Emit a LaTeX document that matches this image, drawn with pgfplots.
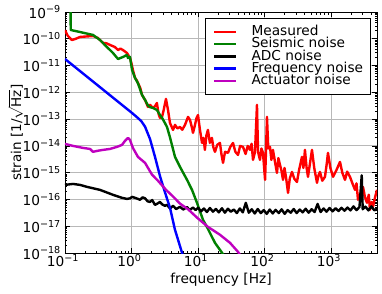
\documentclass[border=0pt]{standalone}
\usepackage{fontspec}
\setmainfont{DejaVu Sans}
\usepackage{pgfplots}
\pgfplotsset{compat=1.18}
\usetikzlibrary{calc}
\definecolor{mred}{rgb}{1,0,0}
\definecolor{mgreen}{rgb}{0,0.5,0}
\definecolor{mblue}{rgb}{0,0,1}
\definecolor{mmag}{rgb}{0.75,0,0.75}
\newcommand\mytick{10\textsuperscript{\pgfmathparse{int(round(\tick))}\ifnum\pgfmathresult<0 −\pgfmathparse{int(-\pgfmathresult)}\fi\pgfmathresult}}
\begin{document}
\begin{tikzpicture}
\begin{axis}[
 name=ax,
 xmode=log, ymode=log, log basis x=10, log basis y=10,
 scale only axis, width=312pt, height=241pt,
 xmin=0.1, xmax=4920, ymin=1e-18, ymax=1e-9,
 grid=major, major grid style={color=black!28, line width=0.9pt},
 axis line style={line width=0.9pt},
 major tick length=5pt, minor tick length=2.5pt,
 every tick/.style={black, line width=0.7pt},
 tick label style={font=\fontsize{13.7}{16}\selectfont},
 xticklabel={\mytick}, yticklabel={\mytick},
 xticklabel style={inner sep=1pt, xshift=-2pt},
 yticklabel style={inner sep=0pt, xshift=-4pt},
 xlabel={frequency [Hz]},
 ylabel={strain [1/$\sqrt{\mbox{Hz}}$]},
 every axis x label/.style={at={(axis description cs:0.5,0)}, yshift=-27pt, anchor=center, font=\fontsize{13.7}{16}\selectfont},
 every axis y label/.style={at={(axis description cs:0,0.5)}, xshift=-47.5pt, rotate=90, anchor=center, inner sep=0pt, text height=11pt, text depth=3.5pt, font=\fontsize{13.5}{16}\selectfont},
 legend style={at={(1,1)}, anchor=north east, xshift=-6pt, yshift=-6pt, draw=black, line width=0.8pt, fill=white,
   font=\fontsize{13.7}{13.7}\selectfont, inner xsep=7.5pt, inner ysep=7.5pt, row sep=0pt, column sep=14pt,
   nodes={inner sep=0pt, text height=9.8pt, text depth=2.4pt}},
 legend cell align=left,
 legend image code/.code={\draw[#1] (0pt,0pt) -- (22pt,0pt);},
 every axis plot/.append style={line width=2.4pt, line join=round},
]
\addplot[mred] table {
0.100 2.1e-10
0.110 1.3e-10
0.127 9.0e-11
0.145 1.0e-10
0.168 1.17e-10
0.21 1.22e-10
0.264 1.27e-10
0.313 1.07e-10
0.373 7.0e-11
0.42 6.8e-11
0.475 5.9e-11
0.565 4.9e-11
0.627 3.8e-11
0.68 4.3e-11
0.745 3.8e-11
0.855 2.95e-11
0.949 1.92e-11
1.00 1.2e-11
1.05 6.85e-12
1.13 3.45e-12
1.20 2.8e-12
1.25 2.24e-12
1.35 1.5e-12
1.44 8.0e-13
1.60 5.2e-13
1.77 2.85e-13
1.90 3.39e-13
2.10 2.62e-13
2.25 3.0e-13
2.41 4.0e-13
2.55 1.6e-13
2.68 1.11e-13
2.88 1.21e-13
3.05 2.2e-13
3.30 5.7e-13
3.54 2.2e-13
3.79 7.2e-14
4.21 3.95e-14
4.51 6.1e-14
4.9 4.5e-14
5.36 5.1e-14
5.8 4.0e-14
6.38 6.1e-14
7.08 1.21e-13
7.59 9.3e-14
8.13 4.7e-14
8.41 3.06e-14
9.0 6.0e-14
9.5 1.1e-13
10.0 1.43e-13
10.7 4.0e-14
11.5 1.29e-14
12.1 2.0e-14
12.7 7.1e-15
13.4 2.5e-14
14.1 3.95e-14
15.1 1.3e-14
16.2 1.99e-14
17.0 9e-15
18.0 6.0e-15
19.5 1.1e-14
21.4 1.29e-14
22.5 5e-15
23.8 2.32e-15
25.5 6e-15
28.3 5.5e-15
30.5 9e-15
33.6 1.29e-14
36.5 6e-15
40.0 4.6e-15
43 1.0e-14
47.5 9.2e-15
52 5e-15
56 1.0e-14
60.6 7.1e-15
64 1.2e-14
67.2 3.0e-15
72 6e-15
77.1 3.39e-13
80 6e-15
85.5 3.0e-15
90 8e-15
94.9 5.5e-15
102 5.4e-16
105 5e-15
109 1.21e-13
114 8e-15
121 9.2e-15
127 3e-15
134 7.1e-15
144 2.5e-15
154 9.8e-16
162 3.5e-15
171 1.96e-15
180 1.2e-15
190 5.4e-16
200 1.5e-15
212 6e-16
226 1.76e-16
240 6e-16
259 1.07e-15
280 6e-16
308 4.5e-16
330 1.2e-15
366 3.89e-15
385 1.5e-15
406 7.1e-15
430 1.5e-15
451 7.0e-16
480 2e-15
518 7.1e-15
560 1.5e-15
616 4.2e-16
650 8e-16
683 1.07e-15
740 5e-16
812 7.0e-16
860 2e-15
901 5.5e-15
980 1.5e-15
1072 7.0e-16
1200 1.2e-15
1366 2.53e-15
1480 1.0e-15
1624 5.4e-16
1750 1.1e-15
1931 7.0e-16
2100 4e-16
2296 2.28e-16
2420 4e-16
2547 9.7e-17
2800 1.8e-16
3027 2.95e-16
3250 1.2e-16
3478 7.5e-17
3700 1.5e-16
3855 4.1e-17
4100 8e-17
4281 5.3e-17
4600 1.2e-16
4920 2.28e-16
};
\addlegendentry{Measured}
\addplot[mgreen] table {
0.120 2e-8
0.122 2.13e-10
0.168 1.79e-10
0.264 1.39e-10
0.336 9.0e-11
0.428 4.9e-11
0.527 2.95e-11
0.627 1.76e-11
0.745 2.09e-11
0.855 2.49e-11
0.885 1.92e-11
0.949 2.09e-11
1.02 6.85e-12
1.13 3.45e-12
1.25 2.2e-12
1.44 8.0e-13
1.60 5.2e-13
1.77 3.2e-13
1.90 2.8e-13
2.10 2.62e-13
2.41 2.2e-13
2.65 1.5e-13
2.88 1.11e-13
3.15 7.5e-14
3.42 5.1e-14
3.79 2.1e-14
4.51 3.89e-15
5.36 1.65e-15
6.84 5.4e-16
8.13 2.28e-16
9.66 7.5e-17
11.9 1.73e-17
13.6 9.5e-18
15.1 5.7e-18
18.0 2.4e-18
23.0 1.02e-18
25.7 6.5e-19
};
\addlegendentry{Seismic noise}
\addplot[black] table {
0.100 3.5e-16
0.132 3.8e-16
0.168 3.5e-16
0.214 2.95e-16
0.336 2.28e-16
0.527 1.49e-16
0.719 1.15e-16
0.855 1.05e-16
0.95 1.1e-16
1.02 1.25e-16
1.13 1.15e-16
1.25 1.05e-16
1.34 9.7e-17
1.47 1.2e-16
1.60 1.1e-16
1.75 8.5e-17
1.90 8.1e-17
2.05 9.5e-17
2.25 6.3e-17
2.45 7e-17
2.68 8.1e-17
2.9 6.5e-17
3.19 5.8e-17
3.42 6.3e-17
3.8 4.6e-17
4.21 5.8e-17
4.7 4.4e-17
5.36 5.3e-17
6.0 4.2e-17
6.84 5.2e-17
7.5 4.0e-17
8.41 5.0e-17
9.2 4.0e-17
10 4.9e-17
11.1 3.6e-17
12.3 4.6e-17
13.6 3.4e-17
15.1 4.8e-17
16.8 3.5e-17
18.6 4.4e-17
20.6 3.3e-17
22.9 4.7e-17
25.4 3.2e-17
28.1 4.5e-17
31.2 3.5e-17
34.6 4.2e-17
38.4 3.1e-17
42.6 4.6e-17
47.2 3.3e-17
52.4 7.5e-17
58.1 3.2e-17
64.4 4.3e-17
71.4 3.0e-17
79.2 4.4e-17
87.9 3.1e-17
97.5 4.0e-17
108 2.9e-17
120 4.2e-17
133 3.0e-17
147 4.1e-17
164 3.1e-17
181 4.3e-17
201 2.9e-17
223 4.0e-17
248 3.2e-17
275 4.4e-17
305 3.1e-17
338 4.2e-17
375 3.3e-17
416 4.5e-17
461 3.2e-17
511 4.3e-17
567 3.4e-17
629 6.8e-17
698 3.4e-17
774 4.6e-17
858 3.5e-17
952 4.8e-17
1056 3.6e-17
1171 4.7e-17
1299 3.7e-17
1440 4.9e-17
1597 3.8e-17
1772 5.0e-17
1965 3.9e-17
2180 5.5e-17
2418 4.0e-17
2681 5.2e-17
2900 8.0e-16
3000 4.3e-17
3298 5.4e-17
3658 3.9e-17
4057 5.5e-17
4500 3.9e-17
4920 4.6e-17
};
\addlegendentry{ADC noise}
\addplot[mblue] table {
0.1 1.76e-11
1.0 1.76e-13
1.2 1.2e-13
1.4 8.5e-14
1.6 5.2e-14
1.9 1.8e-14
2.25 4.0e-15
2.7 7e-16
3.2 1.8e-16
3.8 4.8e-17
4.5 7.5e-18
5.7 1.1e-18
6.3 5e-19
};
\addlegendentry{Frequency noise}
\addplot[mmag] table {
0.100 1.19e-14
0.132 1.0e-14
0.187 8.4e-15
0.238 7.7e-15
0.264 6.0e-15
0.303 6.5e-15
0.373 7.1e-15
0.475 7.7e-15
0.605 9.2e-15
0.719 1.09e-14
0.798 1.54e-14
0.885 1.99e-14
0.949 1.67e-14
1.05 8.4e-15
1.25 3.89e-15
1.60 2.32e-15
2.03 8.5e-16
2.5 5.0e-16
3.3 2.3e-16
4.2 1.3e-16
5.36 7.0e-17
7.1 4.3e-17
9.66 2.1e-17
14.1 9.5e-18
21.4 4.8e-18
30.3 2.4e-18
40 1.1e-18
45 7e-19
};
\addlegendentry{Actuator noise}
\end{axis}
\pgfresetboundingbox
\path[use as bounding box] ($(ax.south west)+(-65pt,-40pt)$) rectangle ($(ax.north east)+(5pt,12pt)$);
\end{tikzpicture}
\end{document}
